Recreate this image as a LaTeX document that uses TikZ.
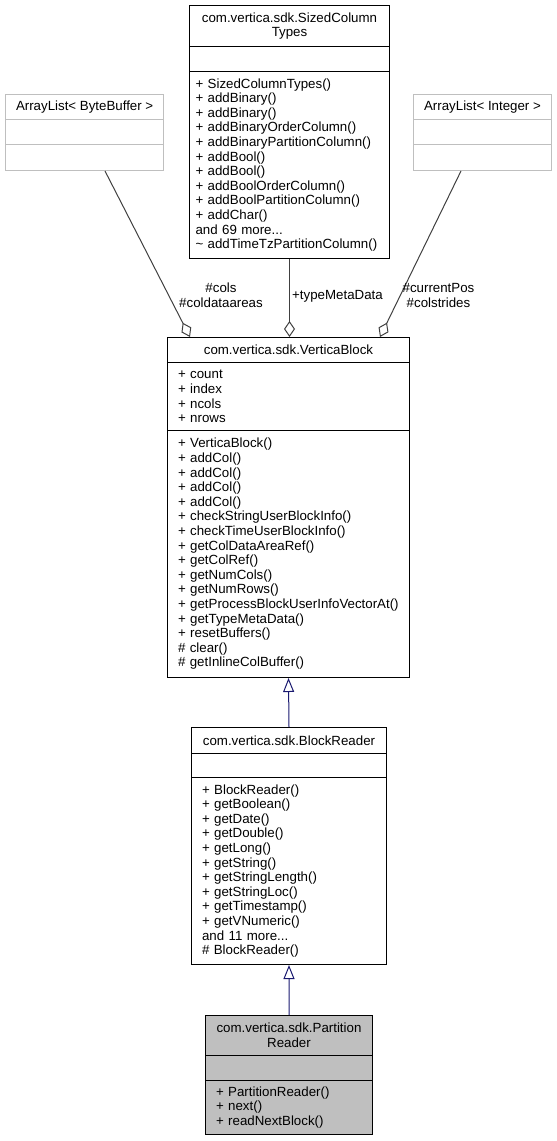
\documentclass[tikz,border=0pt]{standalone}
\usepackage{fontspec}
\setmainfont{Liberation Sans}
\usepackage{tikz}
\usepackage{xcolor}
\usetikzlibrary{arrows.meta,shapes}

\definecolor{grey75}{HTML}{BFBFBF}
\definecolor{grey25}{HTML}{404040}
\definecolor{midnight}{HTML}{191970}
\newcommand{\dxfont}{\fontsize{13.3bp}{14.6bp}\selectfont}

\tikzset{
    cls/.style={draw=black,line width=1bp,rectangle,anchor=north west,inner xsep=10.5bp,inner ysep=0pt,font=\dxfont,align=left},
    ext/.style={cls,draw=grey75},
    cur/.style={cls,fill=grey75},
    agg/.style={-{Diamond[open,length=16bp,width=11bp]},line width=1bp,draw=grey25},
    inh/.style={-{Triangle[open,length=14bp,width=11bp]},line width=1bp,draw=midnight},
    lbl/.style={font=\dxfont,align=center,inner sep=0pt}
}

\begin{document}
\begin{tikzpicture}
    \useasboundingbox (0bp,0bp) rectangle (557bp,-1141bp);
    % SizedColumnTypes
    \node (SCT) at (189bp,-5bp)[cls,minimum width=200bp,minimum height=41bp,align=center] {com.vertica.sdk.SizedColumn\\Types};
    \node (SCTa) at (189bp,-46bp)[cls,minimum width=200bp,minimum height=25bp] {};
    \node (SCTm) at (189bp,-71bp)[cls,inner xsep=6bp,minimum width=200bp,text width=188bp,minimum height=187bp] {+ SizedColumnTypes()\\+ addBinary()\\+ addBinary()\\+ addBinaryOrderColumn()\\+ addBinaryPartitionColumn()\\+ addBool()\\+ addBool()\\+ addBoolOrderColumn()\\+ addBoolPartitionColumn()\\+ addChar()\\and 69 more...\\\mbox{\textasciitilde{} addTimeTzPartitionColumn()}};
    % ArrayList< ByteBuffer >
    \node (ALB) at (5bp,-94bp)[ext,minimum width=158bp,minimum height=25bp,align=center] {ArrayList< ByteBuffer >};
    \node (ALBa) at (5bp,-119bp)[ext,minimum width=158bp,minimum height=25bp] {};
    \node (ALBm) at (5bp,-144bp)[ext,minimum width=158bp,minimum height=26bp] {};
    % ArrayList< Integer >
    \node (ALI) at (413bp,-94bp)[ext,minimum width=138bp,minimum height=25bp,align=center] {ArrayList< Integer >};
    \node (ALIa) at (413bp,-119bp)[ext,minimum width=138bp,minimum height=25bp] {};
    \node (ALIm) at (413bp,-144bp)[ext,minimum width=138bp,minimum height=26bp] {};
    % VerticaBlock
    \node (VB) at (167bp,-337bp)[cls,minimum width=242bp,minimum height=25bp,align=center] {com.vertica.sdk.VerticaBlock};
    \node (VBa) at (167bp,-362bp)[cls,minimum width=242bp,text width=221bp,minimum height=68bp] {+ count\\+ index\\+ ncols\\+ nrows};
    \node (VBm) at (167bp,-430bp)[cls,minimum width=242bp,text width=221bp,minimum height=247bp] {+ VerticaBlock()\\+ addCol()\\+ addCol()\\+ addCol()\\+ addCol()\\+ checkStringUserBlockInfo()\\+ checkTimeUserBlockInfo()\\+ getColDataAreaRef()\\+ getColRef()\\+ getNumCols()\\+ getNumRows()\\+ getProcessBlockUserInfoVectorAt()\\+ getTypeMetaData()\\+ resetBuffers()\\\# clear()\\\# getInlineColBuffer()};
    % BlockReader
    \node (BR) at (191bp,-727bp)[cls,minimum width=195bp,minimum height=26bp,align=center] {com.vertica.sdk.BlockReader};
    \node (BRa) at (191bp,-753bp)[cls,minimum width=195bp,minimum height=24bp] {};
    \node (BRm) at (191bp,-777bp)[cls,minimum width=195bp,text width=174bp,minimum height=187bp] {+ BlockReader()\\+ getBoolean()\\+ getDate()\\+ getDouble()\\+ getLong()\\+ getString()\\+ getStringLength()\\+ getStringLoc()\\+ getTimestamp()\\+ getVNumeric()\\and 11 more...\\\# BlockReader()};
    % PartitionReader
    \node (PR) at (205bp,-1015bp)[cur,minimum width=167bp,minimum height=40bp,align=center] {com.vertica.sdk.Partition\\Reader};
    \node (PRa) at (205bp,-1055bp)[cur,minimum width=167bp,minimum height=25bp] {};
    \node (PRm) at (205bp,-1080bp)[cur,minimum width=167bp,text width=146bp,minimum height=54bp] {+ PartitionReader()\\+ next()\\+ readNextBlock()};
    % aggregations
    \draw [agg] ([xshift=100bp]ALBm.south west) to ([xshift=23bp]VB.north west);
    \draw [agg] (SCTm.south) to (SCTm.south |- VB.north);
    \draw [agg] ([xshift=48bp]ALIm.south west) to ([xshift=-30bp]VB.north east);
    \node (Lcols) at (221bp,-295.5bp)[lbl] {\#cols\\\#coldataareas};
    \node (Ltype) at (337.5bp,-296bp)[lbl] {+typeMetaData};
    \node (Lpos) at (438.5bp,-295.5bp)[lbl] {\#currentPos\\\#colstrides};
    % inheritance
    \draw [inh] (BR.north) to (VBm.south);
    \draw [inh] (PR.north) to (BRm.south);
\end{tikzpicture}
\end{document}
